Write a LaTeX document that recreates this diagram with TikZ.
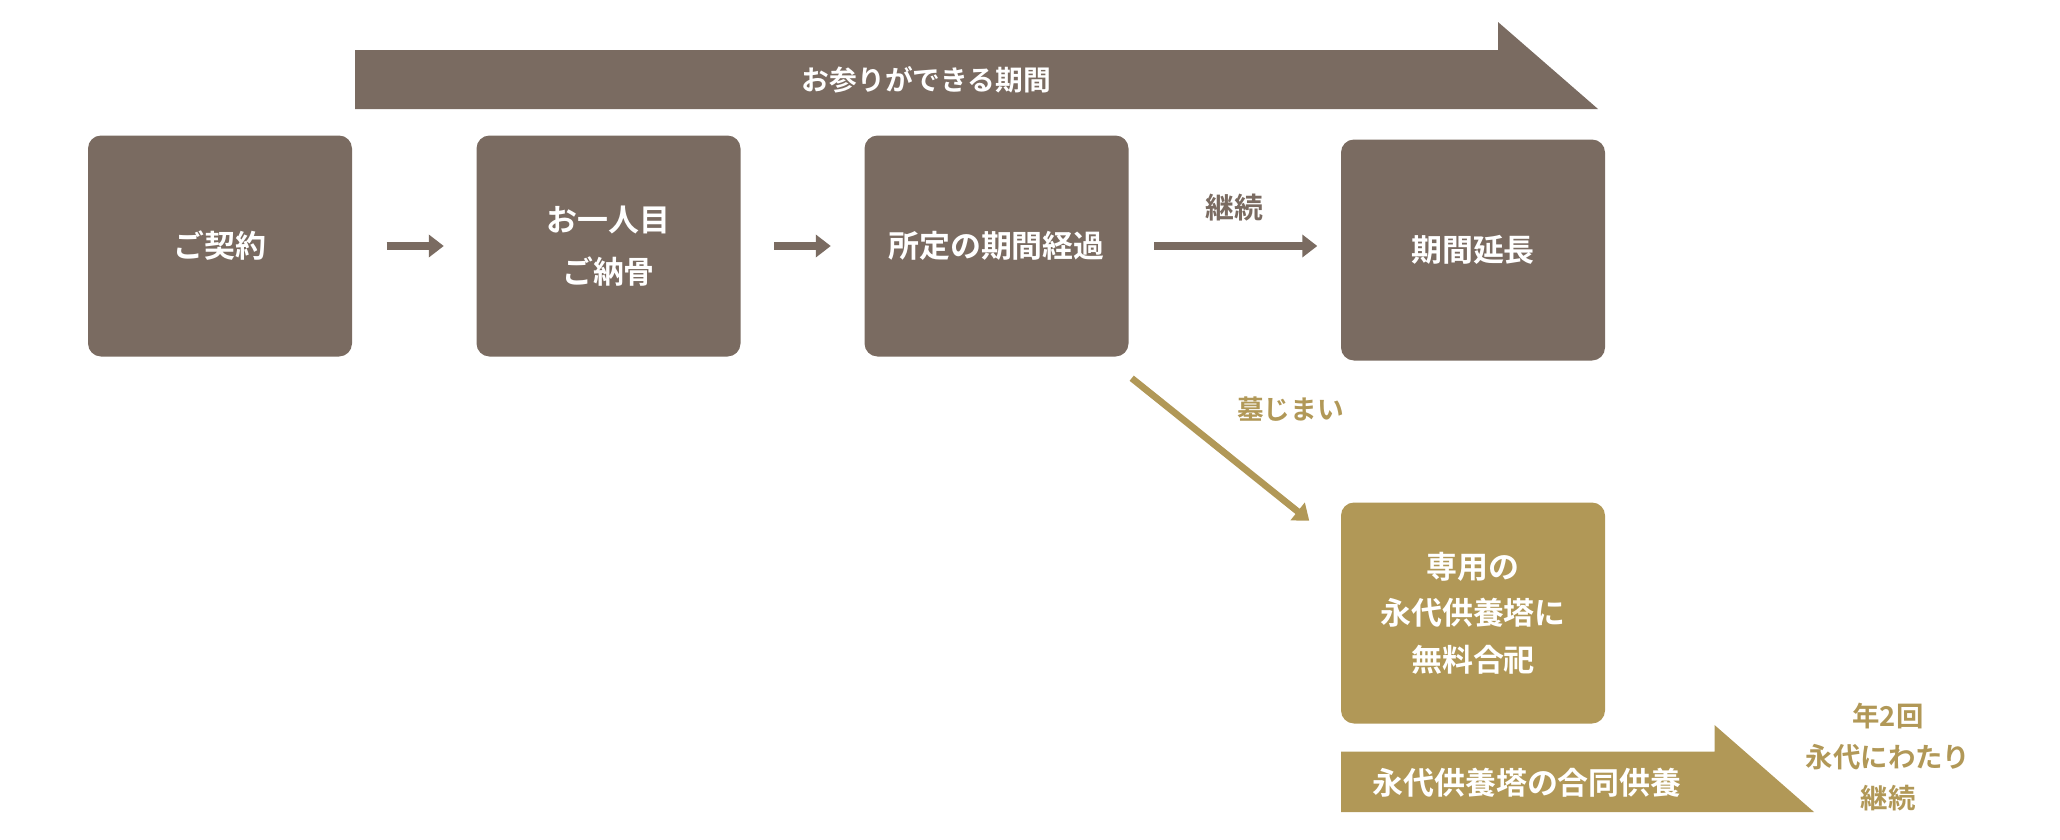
\documentclass[tikz,border=0pt]{standalone}
\usepackage{fontspec}
\setmainfont{Noto Sans CJK JP}[BoldFont={Noto Sans CJK JP Bold}]
\usepackage{xcolor}
\usepackage{tikz}
\usetikzlibrary{arrows.meta}
\definecolor{stone}{HTML}{7A6B61}
\definecolor{ochre}{HTML}{B19857}

\begin{document}
\begin{tikzpicture}[
  box/.style={fill=stone, rounded corners=0.13cm, minimum width=2.64cm, minimum height=2.21cm,
    text=white, align=center, font=\bfseries\fontsize{8.8}{15}\selectfont},
  flow/.style={line width=2.3pt, -{Triangle[width=0.22cm,length=0.15cm]}},
  banner/.style={text=white, font=\bfseries\fontsize{8.8}{11}\selectfont},
  note/.style={align=center, font=\bfseries\fontsize{8}{11.6}\selectfont}]
  \useasboundingbox (0,0) rectangle (20.6,-8.4);

  \fill[stone] (3.55,-0.50) -- (14.98,-0.50) -- (14.98,-0.22) -- (15.98,-1.09) -- (3.55,-1.09) -- cycle;
  \node[banner, font=\bfseries\fontsize{7.9}{11}\selectfont] (period) at (9.265,-0.795) {お参りができる期間};

  \node[box] (contract) at (2.20,-2.46) {ご契約};
  \node[box] (first) at (6.085,-2.46) {お一人目\\ご納骨};
  \node[box] (passed) at (9.965,-2.46) {所定の期間経過};
  \node[box] (extend) at (14.73,-2.50) {期間延長};
  \node[box, fill=ochre, font=\bfseries\fontsize{8.8}{13.2}\selectfont] (tower) at (14.73,-6.13) {専用の\\永代供養塔に\\無料合祀};

  \draw[flow, stone, shorten <=0.34cm, shorten >=0.32cm] (contract) -- (first);
  \draw[flow, stone, shorten <=0.33cm, shorten >=0.33cm] (first) -- (passed);
  \draw[flow, stone, shorten <=0.25cm, shorten >=0.23cm] (passed.east) -- (passed.east -| extend.west)
    node[note, midway, yshift=0.38cm, text=stone, font=\bfseries\fontsize{8.2}{11}\selectfont] {継続};
  \draw[flow, ochre, line width=1.9pt] ([shift={(0.025cm,-0.21cm)}]passed.south east) -- ([shift={(-0.31cm,-0.19cm)}]tower.north west)
    node[note, midway, xshift=0.7cm, yshift=0.4cm, text=ochre, font=\bfseries\fontsize{7.6}{11}\selectfont] {墓じまい};

  \fill[ochre] (13.41,-7.515) -- (17.145,-7.515) -- (17.145,-7.25) -- (18.14,-8.12) -- (13.41,-8.12) -- cycle;
  \node[banner] (joint) at (15.27,-7.83) {永代供養塔の合同供養};

  \node[note, text=ochre, font=\bfseries\fontsize{7.8}{11.6}\selectfont] (yearly) at (18.88,-7.57) {年2回\\永代にわたり\\継続};
\end{tikzpicture}
\end{document}
